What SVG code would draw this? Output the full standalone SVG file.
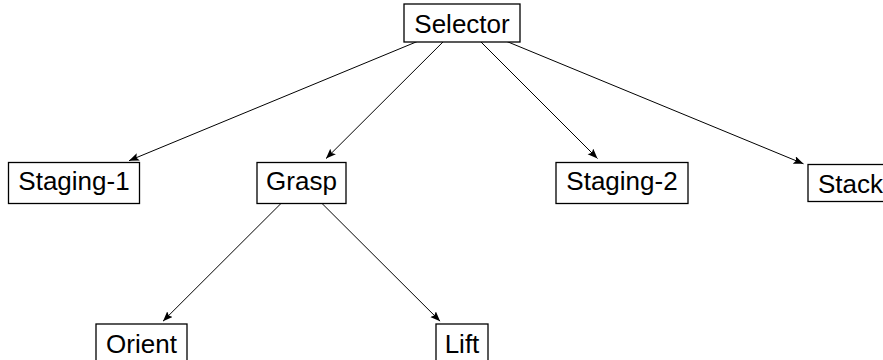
<svg xmlns="http://www.w3.org/2000/svg" width="883" height="360" viewBox="0 0 883 360">
<style>
.box{fill:#fff;stroke:#000;stroke-width:1.3}
.lbl{font-family:"Liberation Sans",Arial,sans-serif;font-size:26px;fill:#000;text-anchor:middle}
.edge{stroke:#000;stroke-width:1;fill:none;marker-end:url(#ah)}
</style>
<defs>
<marker id="ah" markerUnits="userSpaceOnUse" markerWidth="12" markerHeight="10" refX="10" refY="4" orient="auto">
<path d="M0,0 L10,4 L0,8 L2,4 z" fill="#000"/>
</marker>
</defs>
<rect width="883" height="360" fill="#fff"/>
<g id="connectors">
<line class="edge" x1="462" y1="23" x2="129" y2="160.7"/>
<line class="edge" x1="462" y1="23" x2="326" y2="158.6"/>
<line class="edge" x1="462" y1="23" x2="597.5" y2="158.5"/>
<line class="edge" x1="462" y1="23" x2="803.5" y2="163.8"/>
<line class="edge" x1="301.5" y1="183" x2="163" y2="321.2"/>
<line class="edge" x1="301.5" y1="183" x2="440.1" y2="321.2"/>
</g>
<g id="node-selector"><rect class="box" x="404" y="4" width="116" height="38"/><text class="lbl" x="462" y="32.5">Selector</text></g>
<g id="node-staging1"><rect class="box" x="8.5" y="162.5" width="131" height="41"/><text class="lbl" x="74" y="189.7">Staging-1</text></g>
<g id="node-grasp"><rect class="box" x="257" y="162.5" width="89" height="41"/><text class="lbl" x="301.5" y="189.7">Grasp</text></g>
<g id="node-staging2"><rect class="box" x="556" y="162.5" width="132" height="41"/><text class="lbl" x="622" y="189.7">Staging-2</text></g>
<g id="node-stack"><rect class="box" x="808" y="164.5" width="85" height="37"/><text class="lbl" x="850.5" y="192.5">Stack</text></g>
<g id="node-orient"><rect class="box" x="96" y="324" width="91" height="38"/><text class="lbl" x="141.5" y="352.5">Orient</text></g>
<g id="node-lift"><rect class="box" x="436" y="324" width="52" height="38"/><text class="lbl" x="462" y="352.5">Lift</text></g>
</svg>
